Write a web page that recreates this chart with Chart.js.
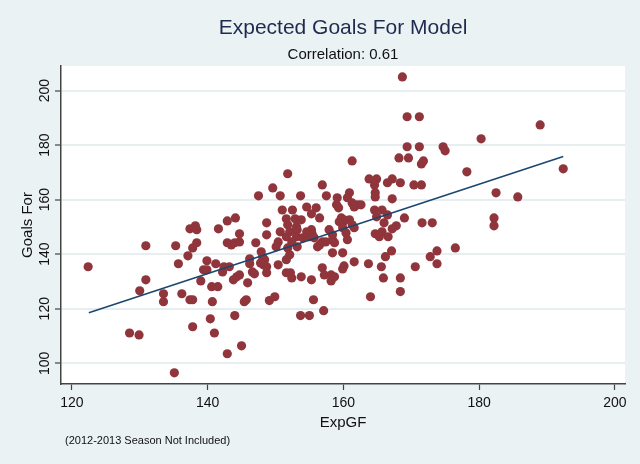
<!DOCTYPE html>
<html>
<head>
<meta charset="utf-8">
<script src="https://cdn.jsdelivr.net/npm/chart.js@4.4.1/dist/chart.umd.min.js"></script>
<style>
  body { margin: 0; background: #eaf2f3; }
  #wrap { width: 640px; height: 464px; }
</style>
</head>
<body>
<div id="wrap"><canvas id="myChart" width="640" height="464"></canvas></div>
<script>
'use strict'

let expGF = [
122.4,128.5,129.9,130.9,130.9,130.0,133.5,133.5,135.1,135.3,135.7,136.2,137.1,137.4,137.8,137.8,137.4,138.2,138.4,138.4,
137.8,139.0,139.9,139.4,139.9,140.4,140.6,141.5,140.7,141.0,141.2,142.2,142.4,143.2,141.6,142.9,144.1,142.9,143.5,144.0,
144.7,144.7,142.9,145.0,144.0,143.8,144.3,144.7,145.9,145.4,145.7,146.2,146.2,146.6,146.9,147.1,147.5,151.8,149.6,150.7,
151.0,152.5,151.6,152.9,151.8,153.1,152.1,153.2,151.6,153.1,152.4,148.7,148.7,150.7,150.4,150.1,151.8,152.1,151.6,154.6,
154.0,153.2,155.0,147.9,148.1,148.4,148.2,147.8,148.7,148.7,150.4,151.6,152.4,152.2,149.1,149.9,153.7,154.6,156.0,155.3,
156.5,156.9,157.5,153.8,155.3,155.4,155.7,156.9,157.4,156.5,156.2,157.9,158.4,158.4,158.7,156.9,157.2,158.2,158.2,158.7,
155.3,153.8,158.4,155.6,157.1,153.7,155.0,159.1,159.0,159.3,160.9,160.6,161.3,162.1,161.6,161.3,159.7,160.1,160.9,161.3,
161.6,159.9,159.4,159.9,160.4,160.6,159.9,161.6,160.1,159.9,162.6,168.7,169.4,171.2,169.4,171.2,174.7,175.0,168.2,169.6,
171.5,171.8,163.8,164.9,164.6,167.2,166.5,168.4,170.4,171.5,164.7,164.7,167.2,164.6,165.7,164.9,166.5,169.0,171.6,173.1,
166.0,167.8,167.2,164.7,165.3,165.7,166.6,167.1,166.2,173.8,172.8,173.8,170.6,163.7,165.6,165.9,168.4,168.4,164.0,180.3,
178.2,189.0,192.4,182.5,185.7,182.2,182.2,176.5
];

let goalsFor = [
135.4,111.1,110.4,143.1,130.6,126.6,125.5,122.6,96.5,143.1,136.5,125.5,139.4,123.3,123.3,113.4,149.3,150.4,149.0,144.2,
142.3,130.2,137.6,134.3,134.3,116.3,128.1,128.1,122.6,111.1,136.5,133.5,135.4,135.4,149.3,152.2,153.3,144.2,143.4,144.2,
144.5,147.5,103.5,106.4,117.5,130.6,131.7,132.4,129.5,122.6,123.3,138.3,136.5,133.5,132.8,144.2,161.4,169.5,164.3,161.4,
156.2,156.2,153.0,153.0,150.8,150.1,148.2,149.0,146.4,146.4,144.5,151.5,147.1,148.2,144.5,142.7,142.3,139.8,138.0,148.2,
146.0,142.7,146.4,140.9,139.1,138.0,136.1,136.8,135.4,133.2,136.1,133.2,131.3,133.2,123.0,124.4,161.4,157.3,157.0,154.8,
153.3,165.4,161.4,152.6,149.0,147.5,146.0,144.5,144.5,143.4,142.7,149.0,147.1,145.3,144.2,135.0,132.4,132.4,130.2,131.7,
130.6,131.7,140.5,123.3,119.3,117.5,117.5,160.7,158.1,157.0,162.5,160.7,158.8,158.1,157.3,174.2,153.3,152.6,152.6,150.8,
149.7,151.5,151.9,149.7,147.8,145.3,140.5,137.2,135.7,134.6,158.1,205.0,190.4,190.4,179.4,179.4,179.4,177.9,175.3,175.3,
173.1,174.2,167.6,167.6,165.4,167.6,166.2,166.2,165.4,165.4,162.5,161.0,160.3,156.2,156.2,153.7,154.4,153.3,151.5,151.5,
151.5,150.4,149.3,147.5,146.4,148.2,146.4,141.2,139.1,141.2,139.1,136.5,135.4,136.5,135.4,131.3,131.3,126.3,124.4,182.3,
170.2,187.4,171.3,162.5,161.0,153.3,150.4,142.3
];

// fitted line at both ends
let fitX = [122.5, 192.4];
let fitY = [118.5, 175.8];

let xTicks = [120, 140, 160, 180, 200];
let yTicks = [100, 120, 140, 160, 180, 200];

const fontFam = '"Liberation Sans", Arial, sans-serif';

let points = [];
for (let i = 0; i < expGF.length; i++) {
  points.push({ x: expGF[i], y: goalsFor[i] });
}
let fitLine = [];
for (let i = 0; i < fitX.length; i++) {
  fitLine.push({ x: fitX[i], y: fitY[i] });
}

function setTicks(list) {
  return function (scale) {
    scale.ticks = list.map(v => ({ value: v }));
  };
}

// backgrounds, rotated y labels, titles and note
const decor = {
  id: 'decor',
  beforeDraw(chart) {
    const c = chart.ctx;
    const a = chart.chartArea;
    c.save();
    c.fillStyle = '#eaf2f3';
    c.fillRect(0, 0, chart.width, chart.height);
    c.fillStyle = '#ffffff';
    c.fillRect(a.left, a.top, a.right - a.left, a.bottom - a.top);
    c.restore();
  },
  afterDraw(chart) {
    const c = chart.ctx;
    const a = chart.chartArea;
    const ys = chart.scales.y;
    c.save();
    c.fillStyle = '#111';
    c.font = '14px ' + fontFam;
    c.textAlign = 'center';
    c.textBaseline = 'middle';
    for (let i = 0; i < yTicks.length; i++) {
      let py = ys.getPixelForValue(yTicks[i]);
      c.save();
      c.translate(45, py);
      c.rotate(-Math.PI / 2);
      c.fillText(String(yTicks[i]), 0, 0);
      c.restore();
    }
    let mid = (a.left + a.right) / 2;
    c.fillStyle = '#1e2b4e';
    c.font = '21px ' + fontFam;
    c.fillText('Expected Goals For Model', mid, 28);
    c.fillStyle = '#111';
    c.font = '15px ' + fontFam;
    c.fillText('Correlation: 0.61', mid, 55);
    c.font = '11px ' + fontFam;
    c.textAlign = 'left';
    c.fillText('(2012-2013 Season Not Included)', 65, 441);
    c.restore();
  }
};

let ctx = document.getElementById('myChart').getContext('2d');
let myChart = new Chart(ctx, {
  type: 'scatter',
  data: {
    datasets: [{
      type: 'line',
      data: fitLine,
      borderColor: '#1a476f',
      borderWidth: 1.6,
      pointRadius: 0,
      fill: false
    }, {
      data: points,
      backgroundColor: '#90353b',
      borderWidth: 0,
      pointRadius: 4.6,
      pointHoverRadius: 4.6
    }]
  },
  options: {
    responsive: false,
    animation: false,
    events: [],
    layout: { padding: { top: 66, right: 15, left: 0, bottom: 30 } },
    plugins: { legend: { display: false }, tooltip: { enabled: false } },
    scales: {
      x: {
        type: 'linear',
        min: 118.4,
        max: 201.5,
        afterBuildTicks: setTicks(xTicks),
        afterFit(s) { s.height = 50; },
        grid: { drawOnChartArea: false, drawTicks: true, tickLength: 6, tickColor: '#444', tickWidth: 1.2 },
        border: { display: true, color: '#444', width: 1.5 },
        ticks: { color: '#111', font: { family: fontFam, size: 14 }, padding: 5, maxRotation: 0 },
        title: { display: true, text: 'ExpGF', color: '#111', font: { family: fontFam, size: 15 }, padding: { top: 0, bottom: 2 } }
      },
      y: {
        type: 'linear',
        min: 92.4,
        max: 209,
        afterBuildTicks: setTicks(yTicks),
        afterFit(s) { s.width = 61; },
        grid: { color: '#e6eef0', lineWidth: 2, drawTicks: true, tickLength: 6, tickColor: '#444', tickWidth: 1.2 },
        border: { display: true, color: '#444', width: 1.5 },
        ticks: { display: false },
        title: { display: true, text: 'Goals For', color: '#111', font: { family: fontFam, size: 15 }, padding: { top: 19, bottom: 0 } }
      }
    }
  },
  plugins: [decor]
});
</script>
</body>
</html>
